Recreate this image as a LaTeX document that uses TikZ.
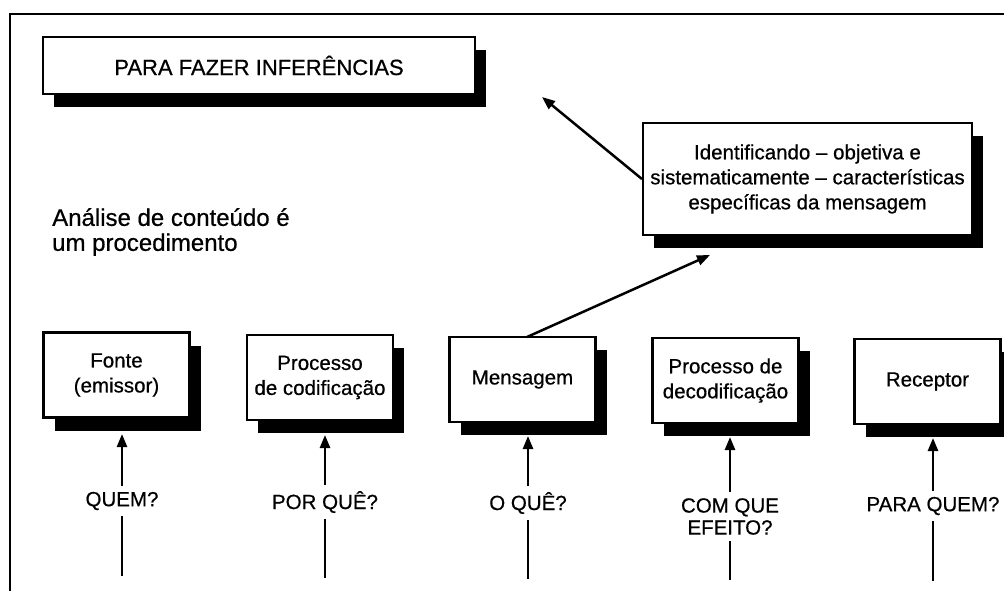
\documentclass[tikz,border=0pt]{standalone}
\usepackage{fontspec}
\setmainfont{Liberation Sans}[FakeBold=0.6]
\usetikzlibrary{arrows.meta,shadows,calc}
\tikzset{
  shbox/.style={draw=black, line width=2.1pt, fill=white, align=center, inner sep=0pt,
    font=\fontsize{20.5}{25}\selectfont,
    drop shadow={shadow xshift=11pt, shadow yshift=-13pt, opacity=1, fill=black}},
  flowbox/.style={shbox, minimum width=146pt, minimum height=85pt},
  qlabel/.style={font=\fontsize{20.5}{22}\selectfont, inner sep=6pt, align=center},
  arr/.style={line width=2.5pt, -{Triangle[length=13pt,width=10pt]}},
  stem/.style={line width=2.5pt},
  frameline/.style={line width=2.6pt}
}
\begin{document}
\begin{tikzpicture}[x=1pt,y=-1pt]
\useasboundingbox (0,0) rectangle (1004,590);
\clip (0,0) rectangle (1004,590);
% frame
\draw[frameline] (1010,14) -- (10,14) -- (10,595);

% top box
\node[shbox, minimum width=432pt, minimum height=57pt, font=\fontsize{22}{26}\selectfont]
  (inf) at (259,65.5) {PARA FAZER INFERÊNCIAS};

% identification box
\node[shbox, minimum width=329pt, minimum height=112pt] (ident) at (807.5,179)
  {Identificando -- objetiva e\\sistematicamente -- características\\específicas da mensagem};

% intro text
\node[anchor=west, inner sep=0pt, align=left, font=\fontsize{24}{25}\selectfont]
  (intro) at (52,232) {Análise de conteúdo é\\um procedimento};

% flow boxes
\node[flowbox] (b1) at (116.5,375) {Fonte\\(emissor)};
\node[flowbox] (b2) at (320,377.5) {Processo\\de codificação};
\node[flowbox] (b3) at (522.5,379.5) {Mensagem};
\node[flowbox] (b4) at (725.5,380.5) {Processo de\\decodificação};
\node[flowbox] (b5) at (927.5,381.5) {Receptor};

% question labels
\node[qlabel] (q1) at (122,501) {QUEM?};
\node[qlabel] (q2) at (325,502) {POR QUÊ?};
\node[qlabel] (q3) at (528,503) {O QUÊ?};
\node[qlabel] (q4) at (730,516.5) {COM QUE\\EFEITO?};
\node[qlabel] (q5) at (933,506) {PARA QUEM?};

% arrow tips under boxes (bottom of shadows)
\coordinate (t1) at (122,434);
\coordinate (t2) at (325,435);
\coordinate (t3) at (528,436);
\coordinate (t4) at (730,437);
\coordinate (t5) at (933,438);
% stem ends
\coordinate (s1) at (122,576);
\coordinate (s2) at (325,578);
\coordinate (s3) at (528,579);
\coordinate (s4) at (730,580);
\coordinate (s5) at (933,581);

\foreach \i in {1,...,5}{
  \draw[arr] (q\i.north) -- (t\i);
  \draw[stem] (q\i.south) -- (s\i);
}

% diagonal arrows
\coordinate (e1) at (542,97);
\coordinate (e2) at (710,255);
\coordinate (m1) at (527,337);
\draw[arr] (ident.west) -- (e1);
\draw[arr] (m1) -- (e2);
\end{tikzpicture}
\end{document}
